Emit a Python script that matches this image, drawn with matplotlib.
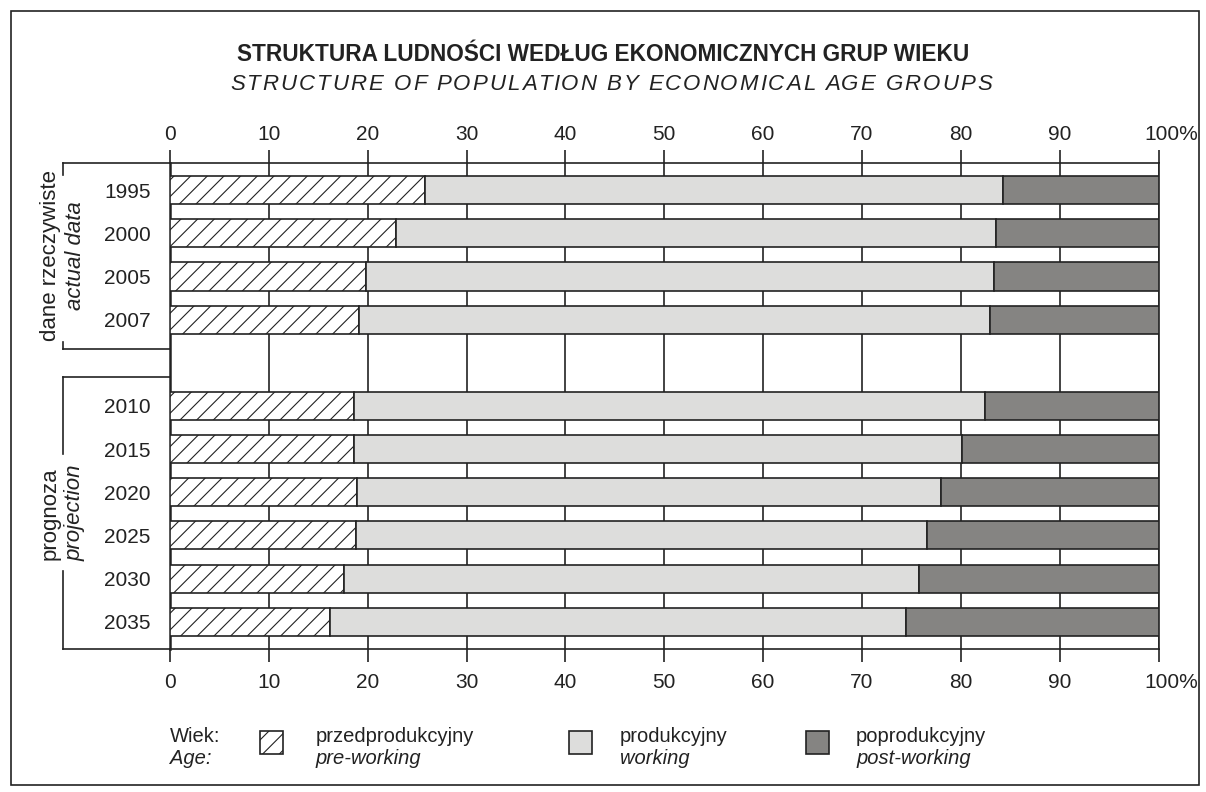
import matplotlib
matplotlib.use("Agg")
import matplotlib.pyplot as plt
import numpy as np
from matplotlib.patches import Rectangle
from matplotlib.transforms import blended_transform_factory, ScaledTranslation

plt.rcParams['font.family'] = ['Liberation Sans', 'DejaVu Sans']
plt.rcParams['hatch.linewidth'] = 0.8

# data (percent of population)
actual_years = ['1995', '2000', '2005', '2007']
projection_years = ['2010', '2015', '2020', '2025', '2030', '2035']
pre_working = [25.8, 22.9, 19.8, 19.1, 18.6, 18.6, 18.9, 18.8, 17.6, 16.2]
working = [58.5, 60.7, 63.5, 63.8, 63.8, 61.5, 59.1, 57.8, 58.2, 58.2]
post_working = [15.7, 16.4, 16.7, 17.1, 17.6, 19.9, 22.0, 23.4, 24.2, 25.6]
x_ticks = [0, 10, 20, 30, 40, 50, 60, 70, 80, 90, 100]
x_labels = ['0', '10', '20', '30', '40', '50', '60', '70', '80', '90', '100%']

title_pl = 'STRUKTURA LUDNOŚCI WEDŁUG EKONOMICZNYCH GRUP WIEKU'
title_en = 'STRUCTURE OF POPULATION BY ECONOMICAL AGE GROUPS'

DARK = '#222222'
LIGHT_GREY = '#dddddc'
DARK_GREY = '#858482'
FS = 15

# one empty slot between actual data and projection
n_act = len(actual_years)
pos = np.concatenate([np.arange(n_act),
                      n_act + 1 + np.arange(len(projection_years))])
years = actual_years + projection_years
pre = np.array(pre_working)
work = np.array(working)
post = np.array(post_working)

fig = plt.figure(figsize=(12.06, 7.92), dpi=100)
ax = fig.add_axes([0.141, 0.1806, 0.8197, 0.6136])

bar_kw = dict(height=0.65, edgecolor=DARK, linewidth=1.2, zorder=3)
ax.barh(pos, pre, left=0, color='white', hatch='//', **bar_kw)
ax.barh(pos, work, left=pre, color=LIGHT_GREY, **bar_kw)
ax.barh(pos, post, left=pre + work, color=DARK_GREY, **bar_kw)

ax.set_xlim(0, 100)
ax.set_ylim(pos[-1] + 0.63, -0.63)
ax.set_xticks(x_ticks)
ax.set_xticklabels(x_labels, fontsize=FS, color=DARK)
ax.set_yticks(pos)
ax.set_yticklabels(years, fontsize=FS, color=DARK)
ax.tick_params(axis='y', length=0, pad=14)
ax.tick_params(axis='x', length=9.5, width=1.2, color=DARK, direction='out', pad=8)
ax.xaxis.grid(True, color=DARK, linewidth=1.2, zorder=0)
ax.set_axisbelow(True)
for s in ax.spines.values():
    s.set_color(DARK)
    s.set_linewidth(1.2)
ax.spines['left'].set_linewidth(1.8)

top = ax.secondary_xaxis('top')
top.set_xticks(x_ticks)
top.set_xticklabels(x_labels, fontsize=FS, color=DARK)
top.tick_params(length=9.5, width=1.2, color=DARK, direction='out', pad=4)
top.spines['top'].set_visible(False)

# "100%": the number sits on the tick, the percent sign hangs to the right
shift = ScaledTranslation(-14 / 100, 0, fig.dpi_scale_trans)
for lab in (ax.get_xticklabels()[-1], top.get_xticklabels()[-1]):
    lab.set_horizontalalignment('left')
    lab.set_transform(lab.get_transform() + shift)

# group brackets on the left
tr = blended_transform_factory(ax.transAxes, ax.transData)
xb = -0.108
y_top, y_bot = -0.63, pos[-1] + 0.63
act_bot = n_act - 1 + 0.67
proj_top = n_act + 0.34
line_kw = dict(color=DARK, linewidth=1.2, transform=tr, clip_on=False)
ax.plot([xb, 0], [y_top, y_top], **line_kw)
ax.plot([xb, 0], [act_bot, act_bot], **line_kw)
ax.plot([xb, 0], [proj_top, proj_top], **line_kw)
ax.plot([xb, 0], [y_bot, y_bot], **line_kw)
ax.plot([xb, xb], [y_top, -0.36], **line_kw)
ax.plot([xb, xb], [3.51, act_bot], **line_kw)
ax.plot([xb, xb], [proj_top, 6.12], **line_kw)
ax.plot([xb, xb], [8.83, y_bot], **line_kw)

mid_act = (y_top + act_bot) / 2
mid_proj = (proj_top + y_bot) / 2
txt_kw = dict(transform=tr, rotation=90, ha='center', va='center',
              fontsize=16, color=DARK, clip_on=False)
ax.text(-0.121, mid_act, 'dane rzeczywiste', **txt_kw)
ax.text(-0.096, mid_act, 'actual data', style='italic', **txt_kw)
ax.text(-0.121, mid_proj, 'prognoza', **txt_kw)
ax.text(-0.096, mid_proj, 'projection', style='italic', **txt_kw)

# titles; the English line is letter-spaced
fig.text(0.5, 0.923, title_pl, ha='center', va='baseline', fontsize=16.3,
         weight='bold', color=DARK)
renderer = fig.canvas.get_renderer()
tracking = 2.0  # px between letters
probe = fig.text(0, 0, title_en, fontsize=16, style='italic')
full_w = probe.get_window_extent(renderer).width
start = 0.5 * 1206 + 8 - (full_w + tracking * (len(title_en) - 1)) / 2
for i, ch in enumerate(title_en):
    probe.set_text(title_en[:i] if i else '')
    off = probe.get_window_extent(renderer).width if i else 0
    fig.text((start + off + tracking * i) / 1206, 0.886, ch, ha='left',
             va='baseline', fontsize=16, style='italic', color=DARK)
probe.remove()

# legend
y1, y2 = 1 - 742 / 792, 1 - 764 / 792
LFS = 14.5
fig.text(170 / 1206, y1, 'Wiek:', fontsize=LFS, color=DARK, va='baseline')
fig.text(170 / 1206, y2, 'Age:', fontsize=LFS, color=DARK, va='baseline', style='italic')
legend_items = [
    (260, 316, dict(facecolor='white', hatch='//'), 'przedprodukcyjny', 'pre-working'),
    (569, 620, dict(facecolor=LIGHT_GREY), 'produkcyjny', 'working'),
    (806, 856, dict(facecolor=DARK_GREY), 'poprodukcyjny', 'post-working'),
]
for px, tx, style, pl, en in legend_items:
    fig.add_artist(Rectangle((px / 1206, 1 - 754 / 792), 23 / 1206, 23 / 792,
                             transform=fig.transFigure, edgecolor=DARK,
                             linewidth=1.2, **style))
    fig.text(tx / 1206, y1, pl, fontsize=LFS, color=DARK, va='baseline')
    fig.text(tx / 1206, y2, en, fontsize=LFS, color=DARK, va='baseline', style='italic')

# outer frame
fig.add_artist(Rectangle((0.009, 0.009), 0.9855, 0.977, transform=fig.transFigure,
                         fill=False, edgecolor=DARK, linewidth=1.2))

fig.savefig('out.png', dpi=100)
